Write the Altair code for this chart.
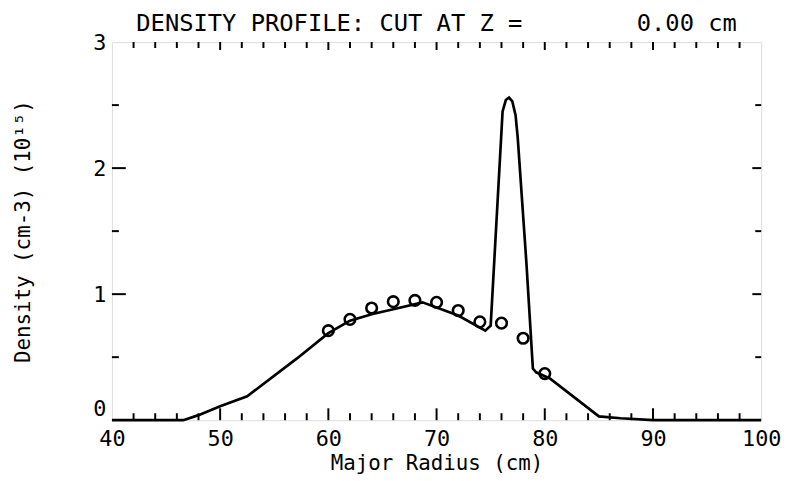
import altair as alt
import pandas as pd

# Model curve (solid line)
line_x = [40, 46.6, 48, 50, 52.5, 57.1, 60, 62, 64, 66, 68.7, 72, 74.5, 75.0,
          76.1, 76.4, 76.7, 77.0, 77.3, 77.5, 78.3, 78.9, 79.2, 80.5, 85, 87, 90, 100]
line_y = [0, 0, 0.04, 0.11, 0.19, 0.49, 0.69, 0.79, 0.84, 0.88, 0.935, 0.83, 0.71, 0.75,
          2.45, 2.54, 2.56, 2.53, 2.42, 2.24, 1.25, 0.41, 0.38, 0.33, 0.03, 0.015, 0, 0]

# Measured points (open circles)
pts_x = [60, 62, 64, 66, 68, 70, 72, 74, 76, 78, 80]
pts_y = [0.71, 0.80, 0.89, 0.94, 0.95, 0.935, 0.87, 0.78, 0.77, 0.65, 0.37]

# Axis ticks
x_labels = [40, 50, 60, 70, 80, 90, 100]
y_labels = [0, 1, 2, 3]
x_major = [50, 60, 70, 80, 90]
x_minor = [42, 44, 46, 48, 52, 54, 56, 58, 62, 64, 66, 68, 72, 74, 76, 78,
           82, 84, 86, 88, 92, 94, 96, 98]
y_major = [1, 2]
y_minor = [0.5, 1.5, 2.5]

W, H = 656, 382
NB = "\u00a0"
title_text = "DENSITY PROFILE: CUT AT Z =" + NB * 8 + "0.00 cm"

line_df = pd.DataFrame({"x": line_x, "y": line_y})
pts_df = pd.DataFrame({"x": pts_x, "y": pts_y})

xs = alt.Scale(domain=[40, 100], nice=False, zero=False)
ys = alt.Scale(domain=[0, 3], nice=False, zero=True)

FONT = "DejaVu Sans Mono"

x_axis = alt.Axis(values=x_labels, format="d", ticks=False, domain=False, grid=False,
                  labelFont=FONT, labelFontSize=22, labelColor="black",
                  labelPadding=9, title="Major Radius (cm)", titleFont=FONT,
                  titleFontSize=21, titleFontWeight="normal", titleColor="black",
                  titlePadding=3, labelFlush=False)
y_axis = alt.Axis(values=y_labels, format="d", ticks=False, domain=False, grid=False,
                  labelFont=FONT, labelFontSize=22, labelColor="black",
                  labelPadding=6, title="Density (cm-3) (10¹⁵)", titleFont=FONT,
                  titleFontSize=21, titleFontWeight="normal", titleColor="black",
                  titlePadding=60, labelFlush=False,
                  labelBaseline={"condition": {"test": "datum.value == 0", "value": "bottom"},
                                 "value": "middle"})

base_line = alt.Chart(line_df).mark_line(color="black", strokeWidth=2.7).encode(
    x=alt.X("x:Q", scale=xs, axis=x_axis),
    y=alt.Y("y:Q", scale=ys, axis=y_axis),
)

points = alt.Chart(pts_df).mark_point(shape="circle", filled=False, color="black",
                                      size=115, strokeWidth=2.6, opacity=1).encode(
    x=alt.X("x:Q", scale=xs),
    y=alt.Y("y:Q", scale=ys),
)


def xticks(vals, length, bottom=True):
    df = pd.DataFrame({"v": vals})
    if bottom:
        y0, y1 = H, H - length
    else:
        y0, y1 = 0, length
    return alt.Chart(df).mark_rule(color="black", strokeWidth=2).encode(
        x=alt.X("v:Q", scale=xs), y=alt.value(y0), y2=alt.value(y1))


def yticks(vals, length, left=True):
    df = pd.DataFrame({"v": vals})
    if left:
        x0, x1 = 0, length
    else:
        x0, x1 = W, W - length
    return alt.Chart(df).mark_rule(color="black", strokeWidth=2).encode(
        y=alt.Y("v:Q", scale=ys), x=alt.value(x0), x2=alt.value(x1))


chart = alt.layer(
    base_line,
    points,
    xticks(x_major, 12), xticks(x_minor, 7),
    xticks(x_major, 8, bottom=False), xticks(x_minor, 6, bottom=False),
    yticks(y_major, 14), yticks(y_minor, 7),
    yticks(y_major, 9, left=False), yticks(y_minor, 6, left=False),
).properties(
    width=W, height=H,
    title=alt.TitleParams(title_text, font=FONT, fontSize=24, fontWeight="normal",
                          color="black", anchor="middle", offset=-5),
    autosize=alt.AutoSizeParams(type="none"),
    padding={"left": 105, "top": 32, "right": 21, "bottom": 58},
).configure_view(stroke="black", strokeWidth=2.5).configure(background="white")

chart.save("out.html", embed_options={"renderer": "svg", "actions": False})
